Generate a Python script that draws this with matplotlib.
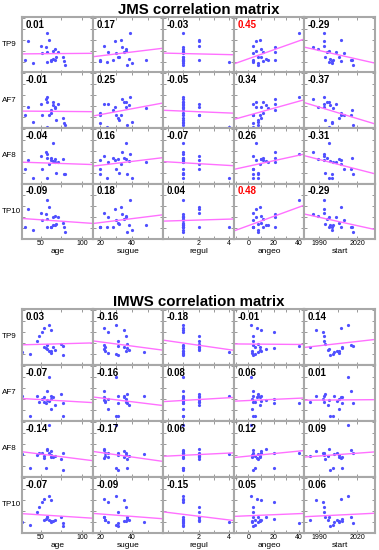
import numpy as np
import matplotlib.pyplot as plt
from matplotlib.ticker import AutoMinorLocator, MultipleLocator

plt.rcParams['font.family'] = ['Liberation Sans', 'DejaVu Sans']

variables = ['age', 'sugue', 'regul', 'angeo', 'start']
channels = ['TP9', 'AF7', 'AF8', 'TP10']
x_limits = [(27.5, 112.5), (15, 60), (-0.35, 4.35), (-11.5, 44.5), (1978.5, 2034)]
x_ticks = [[50, 100], [20, 40], [2, 4], [0, 20, 40], [1990, 2020]]

# JMS group, one entry per subject
jms_age = [58, 60, 35, 50, 56, 67, 65, 71, 58, 52, 77, 69, 65, 67, 63, 78, 31, 58, 62, 41, 79]
jms_sugue = [39, 33, 29, 22, 34, 36, 36, 25, 35, 30, 31, 32, 38, 49, 28, 20, 20, 24, 20, 40, 37]
jms_regul = [1, 2, 2, 2, 1, 1, 1, 1, 1, 1, 1, 1, 1, 1, 1, 1, 2, 4, 1, 1, 1]
jms_angeo = [40, 9, 6, 4, 21, 10, 6, 21, 12, 4, 10, 8, 14, 16, 21, 4, 4, 4, 12, 8, 8]
jms_start = [1994, 2007, 1994, 1994, 1985, 1989, 1998, 2003, 1996, 2010, 2006, 1995,
             1999, 2001, 2016, 2000, 2015, 1998, 2007, 2000, 2017]
jms_tp9 = [40, 33, 31.5, 27, 25.5, 24, 22, 21, 20.5, 19.5, 16, 15.5, 14, 13, 12.5, 12,
           12.5, 11, 11.5, 9.5, 7.5]
jms_af7 = [31.3, 13, 21.3, 24.7, 29.7, 21.3, 26.3, 24.7, 26.3, 13, 9.7, 8, 23, 20, 18,
           4.7, 13, 1.3, 15, 6.3, 3]
jms_af8 = [30, 19.3, 23.3, 27.7, 32, 24.3, 41, 22, 26, 14.3, 24.3, 11, 22.7, 22, 26,
           9.3, 14.3, 5.3, 23.3, 5.3, 9.3]
jms_tp10 = [39, 32.3, 30.7, 26.7, 25, 23.3, 22.3, 21.7, 20.3, 19, 15.7, 15, 14.3, 13.7,
            12.3, 12.3, 11.7, 11.7, 11.7, 9, 7.3]
jms_r = [[0.01, 0.17, -0.03, 0.45, -0.29],
         [-0.01, 0.25, -0.05, 0.34, -0.37],
         [-0.04, 0.16, -0.07, 0.26, -0.31],
         [-0.09, 0.18, 0.04, 0.48, -0.29]]
jms_sig = [[0, 0, 0, 1, 0], [0, 0, 0, 0, 0], [0, 0, 0, 0, 0], [0, 0, 0, 1, 0]]

# IMWS group
imws_age = [60, 54, 62, 52, 48, 46, 75, 58, 77, 54, 65, 58, 67, 60, 62, 28, 37, 77, 56, 63]
imws_sugue = [30, 22, 35, 25, 36, 31, 37, 22, 31, 23, 35, 22, 38, 23, 36, 48, 30, 31, 37, 25]
imws_regul = [1, 1, 1, 1, 2, 2, 2, 1, 1, 2, 2, 2, 2, 1, 1, 4, 1, 1, 1, 1]
imws_angeo = [2, 7, 10, 20, 4, 4, 8, 4, 40, 5, 9, 14, 9, 10, 3, 8, 5, 4, 20, 3]
imws_start = [2013, 2007, 1988, 1993, 1994, 1994, 1995, 2015, 2017, 1983, 2008, 1998,
              1997, 2004, 2006, 2002, 2001, 1999, 2008, 2006]
imws_tp9 = [40, 36.7, 35.3, 32.7, 29.3, 24.3, 21, 20, 19.3, 17.7, 17.7, 16, 15.3, 14.3,
            14.3, 13.3, 11, 10, 17, 12]
imws_af7 = [43.7, 23.7, 24.7, 22, 19.3, 25, 27, 30.3, 17.7, 19.3, 24, 21, 16, 20, 22,
            24.7, 4.7, 5.3, 18, 12]
imws_af8 = [52.3, 19, 26.3, 24, 24, 22, 18.3, 27.3, 24, 21, 19.7, 28.3, 20.7, 24, 22,
            23.3, 9, 7.3, 9, 20]
imws_tp10 = [37.5, 33.7, 33, 31.3, 26.3, 21, 15.7, 16.3, 9.7, 13, 12.3, 15.7, 13, 13,
             12.3, 10.7, 8, 7, 14, 11]
imws_r = [[0.03, -0.16, -0.18, -0.01, 0.14],
          [-0.07, -0.16, 0.08, 0.06, 0.01],
          [-0.14, -0.17, 0.06, 0.12, 0.09],
          [-0.07, -0.09, -0.15, 0.05, 0.06]]
imws_sig = [[0] * 5] * 4

groups = [
    ('JMS correlation matrix',
     [jms_age, jms_sugue, jms_regul, jms_angeo, jms_start],
     [jms_tp9, jms_af7, jms_af8, jms_tp10], jms_r, jms_sig, 17, 55.5, 10),
    ('IMWS correlation matrix',
     [imws_age, imws_sugue, imws_regul, imws_angeo, imws_start],
     [imws_tp9, imws_af7, imws_af8, imws_tp10], imws_r, imws_sig, 309, 56, 302),
]

W, H = 379, 550
fig = plt.figure(figsize=(W / 100, H / 100), dpi=100)
grid_left, cell_w = 22, 70.6

for title, xs, ys, rs, sig, top, cell_h, title_y in groups:
    fig.text((grid_left + 2.5 * cell_w) / W, 1 - title_y / H, title,
             ha='center', va='center', fontsize=10.8, fontweight='bold')
    for i, ch in enumerate(channels):
        fig.text(2 / W, 1 - (top + (i + 0.5) * cell_h) / H, ch,
                 ha='left', va='center', fontsize=5.8)
        for j, var in enumerate(variables):
            ax = fig.add_axes([(grid_left + j * cell_w) / W,
                               1 - (top + (i + 1) * cell_h) / H,
                               cell_w / W, cell_h / H])
            x = np.array(xs[j], dtype=float)
            y = np.array(ys[i], dtype=float)
            ax.plot(x, y, 'o', ms=2.3, color='#5050ff', mew=0)
            # least-squares line implied by the printed correlation
            k = rs[i][j] * y.std() / x.std()
            b = y.mean() - k * x.mean()
            xl = np.array(x_limits[j])
            ax.plot(xl, k * xl + b, color='#ff70ff', lw=1)
            ax.set_xlim(*x_limits[j])
            ax.set_ylim(0, 56)
            ax.set_xticks(x_ticks[j])
            ax.xaxis.set_minor_locator(AutoMinorLocator(2))
            ax.yaxis.set_major_locator(MultipleLocator(11))
            ax.tick_params(which='both', direction='in', top=True, right=True,
                           length=2, width=0.6, color='#888888', pad=1,
                           labelsize=5, labelleft=False)
            if i < 3:
                ax.tick_params(labelbottom=False)
            else:
                ax.set_xlabel(var, fontsize=6, labelpad=0.5)
            for s in ax.spines.values():
                s.set_color('#a8a8a8')
                s.set_linewidth(1.5)
            ax.text(0.05, 0.86, f'{rs[i][j]:.2f}', transform=ax.transAxes,
                    ha='left', va='center', fontsize=7, fontweight='bold',
                    color='red' if sig[i][j] else 'black')

fig.savefig('out.png', dpi=100)
